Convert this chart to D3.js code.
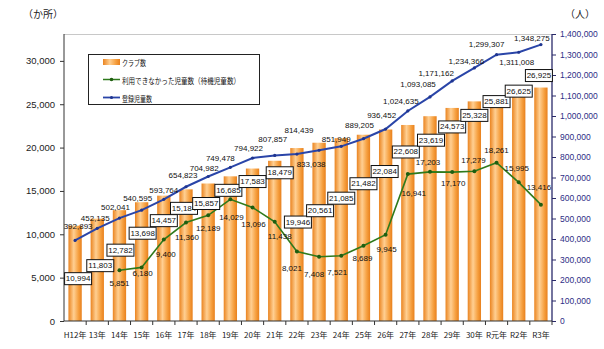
<!DOCTYPE html>
<html><head><meta charset="utf-8">
<script src="https://cdn.jsdelivr.net/npm/d3@7"></script>
<style>
html,body{margin:0;padding:0;background:#fff;}
svg{display:block;}
</style></head>
<body>
<svg id="chart" width="604" height="349"></svg>
<script>
// ---- data ----
const categories = ["H12年","13年","14年","15年","16年","17年","18年","19年","20年","21年","22年","23年","24年","25年","26年","27年","28年","29年","30年","R元年","R2年","R3年"];
const clubs = [10994, 11803, 12782, 13698, 14457, 15184, 15857, 16685, 17583, 18479, 19946, 20561, 21085, 21482, 22084, 22608, 23619, 24573, 25328, 25881, 26625, 26925];
const waiting = [null, null, 5851, 6180, 9400, 11360, 12189, 14029, 13096, 11438, 8021, 7408, 7521, 8689, 9945, 16941, 17203, 17170, 17279, 18261, 15995, 13416];
const registered = [392893, 452135, 502041, 540595, 593764, 654823, 704982, 749478, 794922, 807857, 814439, 833038, 851949, 889205, 936452, 1024635, 1093085, 1171162, 1234366, 1299307, 1311008, 1348275];
const leftTicks = [0, 5000, 10000, 15000, 20000, 25000, 30000];
const rightTicks = [0,100000,200000,300000,400000,500000,600000,700000,800000,900000,1000000,1100000,1200000,1300000,1400000];
const seriesNames = ["クラブ数", "利用できなかった児童数（待機児童数）", "登録児童数"];

// ---- label layout (pixel offsets, not data) ----
const clubLabelDy = [53,47,40,31,25,19,20,14,13,12,74,68,60,49,42,27,24,19,14,5,1,-12];
const clubLabelDx = [3,3,1,1,0,-2,-2,-2,0,5,1,1,0,0,-1,-2,1,0,0,0,0,-2];
const regLabelDx = [3,-2,-4,-4,0,-3,-4,-10,-4,-2,2,-8,-5,-4,-4,-7,-12,-16,-8,-10,-2,-9];
const regLabelDy = [-14,-10,-11,-12,-9,-11,-8,-9,-10,-16,-24,14,-7,-13,-14,-9,-12,-7,-6,-10,10,-6];
const waitLabelDx = [0,0,0,1,2,1,0,1,1,5,-5,-5,-4,-1,1,6,-2,1,-1,0,-2,-2];
const waitLabelDy = [0,0,13,6,15,15,13,18,17,15,17,18,17,13,15,19,-9,11,-11,-12,-14,-17];

const svg = d3.select("#chart");
const L = 64, R = 552, T = 34, B = 321;

const x = d3.scaleBand().domain(categories).range([L, R]).paddingInner(0.4).paddingOuter(0.2);
const yL = d3.scaleLinear().domain([0, 33100]).range([B, T]);
const yR = d3.scaleLinear().domain([0, 1400000]).range([B, T]);
const cx = c => x(c) + x.bandwidth() / 2;
const fmt = d3.format(",");

// gradient
const defs = svg.append("defs");
const g = defs.append("linearGradient").attr("id","barGrad").attr("x1","0").attr("x2","1").attr("y1","0").attr("y2","0");
g.append("stop").attr("offset","0%").attr("stop-color","#ea8420");
g.append("stop").attr("offset","40%").attr("stop-color","#ffcf92");
g.append("stop").attr("offset","75%").attr("stop-color","#f6a040");
g.append("stop").attr("offset","100%").attr("stop-color","#e8801c");

// top border of plot area
svg.append("line").attr("x1",L).attr("x2",R).attr("y1",T+0.5).attr("y2",T+0.5).attr("stroke","#c8c8c8");

// bars
svg.append("g").selectAll("rect").data(categories).join("rect")
  .attr("x", d => x(d)).attr("width", x.bandwidth())
  .attr("y", (d,i) => yL(clubs[i])).attr("height", (d,i) => B - yL(clubs[i]))
  .attr("fill", "url(#barGrad)");

// axes
const leftAxis = svg.append("g").attr("transform",`translate(${L},0)`)
  .call(d3.axisLeft(yL).tickValues(leftTicks).tickFormat(fmt).tickSize(4).tickPadding(5).tickSizeOuter(0));
leftAxis.select(".domain").attr("stroke","#333").attr("d",`M0,${T}V${B}`);
leftAxis.selectAll(".tick line").attr("stroke","#333");
leftAxis.selectAll("text").attr("font-family","Liberation Sans, Arial, sans-serif").attr("font-size","9.5px").attr("fill","#222");

const rightAxis = svg.append("g").attr("transform",`translate(${R},0)`)
  .call(d3.axisRight(yR).tickValues(rightTicks).tickFormat(fmt).tickSize(4).tickPadding(4).tickSizeOuter(0));
rightAxis.select(".domain").attr("stroke","#2a2a6a").attr("stroke-width",1.3).attr("d",`M0,${T}V${B}`);
rightAxis.selectAll(".tick line").attr("stroke","#2a2a6a");
rightAxis.selectAll("text").attr("font-family","Liberation Sans, Arial, sans-serif").attr("font-size","8.5px").attr("fill","#2e2e86");

const bottomAxis = svg.append("g").attr("transform",`translate(0,${B})`)
  .call(d3.axisBottom(x).tickSize(0).tickPadding(11));
bottomAxis.select(".domain").attr("stroke","#333").attr("d",`M${L},0H${R}`);
bottomAxis.selectAll("text").attr("font-family","Noto Sans CJK JP, sans-serif").attr("font-size","8px").attr("fill","#222");
// category boundary ticks
const step = x.step();
svg.append("g").selectAll("line").data(categories).join("line")
  .attr("x1", d => cx(d) + step/2).attr("x2", d => cx(d) + step/2)
  .attr("y1", B).attr("y2", B + 4).attr("stroke","#333");

// green line (waiting)
const wIdx = waiting.map((v,i)=>i).filter(i => waiting[i] !== null);
const lineW = d3.line().x(i => cx(categories[i])).y(i => yL(waiting[i]));
svg.append("path").attr("d", lineW(wIdx)).attr("fill","none").attr("stroke","#2f7a1c").attr("stroke-width",1.6);
svg.append("g").selectAll("circle").data(wIdx).join("circle")
  .attr("cx", i => cx(categories[i])).attr("cy", i => yL(waiting[i])).attr("r",2).attr("fill","#1f5e10");

// blue line (registered)
const lineR = d3.line().x((d,i) => cx(categories[i])).y(d => yR(d));
svg.append("path").attr("d", lineR(registered)).attr("fill","none").attr("stroke","#2a45a8").attr("stroke-width",2);
svg.append("g").selectAll("circle").data(registered).join("circle")
  .attr("cx", (d,i) => cx(categories[i])).attr("cy", d => yR(d)).attr("r",1.6).attr("fill","#1f3590");

const numFont = "Liberation Sans, Arial, sans-serif";

// registered labels
svg.append("g").selectAll("text").data(registered).join("text")
  .attr("x", (d,i) => cx(categories[i]) + regLabelDx[i])
  .attr("y", (d,i) => yR(d) + regLabelDy[i])
  .attr("text-anchor","middle").attr("dominant-baseline","central")
  .attr("font-family",numFont).attr("font-size","8px").attr("fill","#111")
  .text(d => fmt(d));

// waiting labels
svg.append("g").selectAll("text").data(wIdx).join("text")
  .attr("x", i => cx(categories[i]) + waitLabelDx[i])
  .attr("y", i => yL(waiting[i]) + waitLabelDy[i])
  .attr("text-anchor","middle").attr("dominant-baseline","central")
  .attr("font-family",numFont).attr("font-size","8px").attr("fill","#111")
  .text(i => fmt(waiting[i]));

// club labels (boxed)
const boxW = 27, boxH = 12;
const cl = svg.append("g").selectAll("g").data(clubs).join("g")
  .attr("transform",(d,i) => `translate(${cx(categories[i]) + clubLabelDx[i]},${yL(d) + clubLabelDy[i]})`);
cl.append("rect").attr("x",-boxW/2).attr("y",-boxH/2).attr("width",boxW).attr("height",boxH)
  .attr("fill","#fff").attr("stroke","#111").attr("stroke-width",1);
cl.append("text").attr("text-anchor","middle").attr("dominant-baseline","central")
  .attr("font-family",numFont).attr("font-size","8px").attr("fill","#111")
  .text(d => fmt(d));

// legend
const lg = svg.append("g");
lg.append("rect").attr("x",88.5).attr("y",54.5).attr("width",171).attr("height",50).attr("fill","#fff").attr("stroke","#222");
lg.append("rect").attr("x",103).attr("y",59).attr("width",17).attr("height",6).attr("fill","url(#barGrad)");
lg.append("line").attr("x1",103).attr("x2",120).attr("y1",79.5).attr("y2",79.5).attr("stroke","#2f7a1c").attr("stroke-width",1.5);
lg.append("circle").attr("cx",111.5).attr("cy",79.5).attr("r",1.8).attr("fill","#1f5e10");
lg.append("line").attr("x1",103).attr("x2",120).attr("y1",97.5).attr("y2",97.5).attr("stroke","#2a45a8").attr("stroke-width",1.8);
lg.append("circle").attr("cx",111.5).attr("cy",97.5).attr("r",1.6).attr("fill","#1f3590");
const legY = [62, 80, 98];
const legW = [24, 118, 30];
lg.selectAll("text").data(seriesNames).join("text")
  .attr("x",122).attr("y",(d,i)=>legY[i]).attr("dominant-baseline","central")
  .attr("font-family","Noto Sans CJK JP, sans-serif").attr("font-size","8px").attr("fill","#111")
  .attr("textLength",(d,i)=>legW[i]).attr("lengthAdjust","spacingAndGlyphs")
  .text(d => d);

// unit labels
svg.append("text").attr("x",43).attr("y",13).attr("text-anchor","middle").attr("dominant-baseline","central")
  .attr("font-family","Noto Sans CJK JP, sans-serif").attr("font-size","10px").attr("fill","#222").text("（か所）");
svg.append("text").attr("x",580).attr("y",13).attr("text-anchor","middle").attr("dominant-baseline","central")
  .attr("font-family","Noto Sans CJK JP, sans-serif").attr("font-size","10px").attr("fill","#222").text("（人）");
</script>
</body></html>
